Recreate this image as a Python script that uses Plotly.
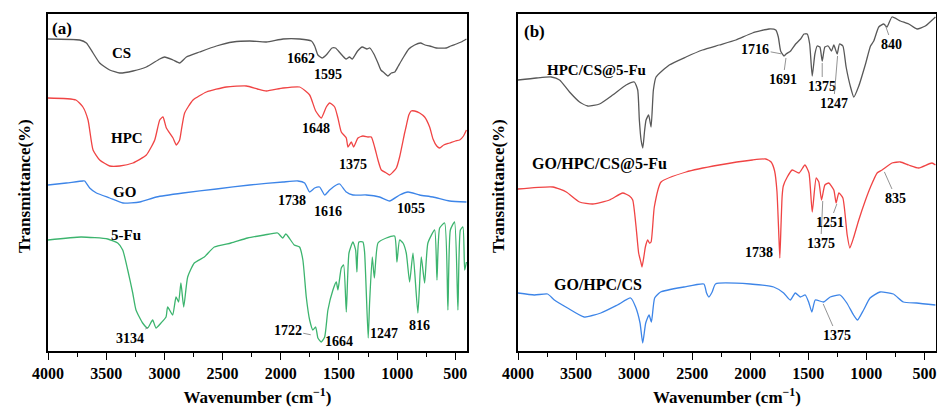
import plotly.graph_objects as go

# ---------------- data (wavenumber cm-1, transmittance a.u.) ----------------
cs_wn = [4000, 3728, 3670, 3613, 3556, 3470, 3384, 3270, 3155, 3040, 2998, 2926, 2869, 2811, 2697, 2553,
         2411, 2267, 2124, 1981, 1838, 1737, 1709, 1681, 1645, 1610, 1560, 1530, 1490, 1440, 1410, 1385,
         1340, 1300, 1260, 1235, 1200, 1165, 1140, 1110, 1080, 1050, 1020, 990, 950, 900, 850, 800, 760,
         720, 664, 578, 540, 492, 450, 405]
cs_t = [312, 311, 308, 298, 288, 281, 278, 280, 284, 292, 294, 291, 288, 294, 299, 305,
        309, 310, 309, 312, 312, 310, 305, 296, 293, 296, 303, 303, 298, 292, 294, 292,
        300, 304, 302, 303, 297, 288, 281, 278, 275, 278, 279, 285, 293, 302, 306, 308, 306,
        305, 303, 303, 305, 307, 309, 312]

hpc_wn = [4000, 3760, 3700, 3656, 3613, 3556, 3470, 3384, 3270, 3155, 3083, 3040, 3012, 2983, 2926, 2897,
          2869, 2854, 2826, 2754, 2639, 2468, 2296, 2200, 2124, 1981, 1838, 1752, 1700, 1652, 1609, 1580,
          1537, 1509, 1480, 1437, 1423, 1394, 1374, 1337, 1294, 1251, 1222, 1194, 1165, 1136, 1093, 1065,
          1036, 1007, 979, 936, 922, 900, 880, 850, 807, 764, 721, 692, 660, 635, 600, 549, 500, 463, 430, 405]
hpc_t = [253, 251, 244, 231, 201, 191, 185, 185, 188, 196, 211, 231, 234, 223, 213, 206,
         211, 221, 238, 251, 259, 264, 265, 262, 260, 263, 264, 256, 240, 233, 244, 248,
         244, 233, 219, 213, 204, 209, 204, 213, 215, 214, 214, 204, 191, 181, 178, 176,
         179, 183, 194, 218, 225, 236, 240, 240, 238, 234, 224, 212, 205, 203, 206, 208, 210, 211, 215, 221]

go_wn = [4000, 3842, 3700, 3685, 3642, 3584, 3470, 3356, 3212, 3069, 2840, 2553, 2267, 1981, 1853, 1795,
         1752, 1709, 1666, 1623, 1580, 1523, 1494, 1437, 1380, 1265, 1151, 1065, 979, 907, 807, 692, 549, 405]
go_t = [166, 168, 170, 170, 163, 158, 153, 148, 149, 154, 158, 162, 166, 169, 170, 168,
        159, 163, 164, 156, 161, 166, 167, 159, 156, 156, 154, 150, 156, 159, 156, 154, 150, 149]

fu_wn = [4000, 3716, 3487, 3401, 3358, 3315, 3272, 3244, 3187, 3144, 3101, 3072, 3029, 2986, 2972, 2929,
         2900, 2878, 2858, 2834, 2800, 2743, 2657, 2571, 2428, 2285, 2141, 2027, 1984, 1956, 1884, 1839,
         1810, 1781, 1752, 1724, 1700, 1681, 1652, 1623, 1595, 1552, 1523, 1509, 1480, 1460, 1437, 1414,
         1380, 1357, 1346, 1329, 1294, 1280, 1249, 1237, 1214, 1196, 1165, 1093, 1022, 1002, 979, 950,
         922, 893, 864, 822, 793, 764, 736, 678, 658, 635, 592, 564, 543, 507, 478, 457, 435, 420, 405]
fu_t = [111, 114, 112, 108, 101, 81, 58, 41, 28, 23, 31, 23, 28, 34, 44, 36,
        54, 49, 68, 44, 74, 88, 94, 104, 108, 113, 116, 118, 113, 117, 106, 104,
        91, 54, 31, 21, 24, 13, 9, 14, 41, 61, 69, 61, 83, 86, 39, 98,
        109, 101, 79, 109, 109, 99, 13, 48, 94, 73, 108, 113, 115, 89, 111, 108,
        98, 69, 98, 38, 94, 68, 108, 121, 71, 123, 128, 41, 121, 129, 41, 121, 124, 81, 89]

hcf_wn = [4000, 3842, 3713, 3642, 3556, 3470, 3399, 3298, 3184, 3069, 2998, 2969, 2955, 2940, 2925, 2910,
          2897, 2875, 2854, 2834, 2811, 2697, 2553, 2411, 2267, 2124, 1981, 1838, 1780, 1758, 1738, 1709,
          1691, 1652, 1609, 1566, 1537, 1509, 1488, 1466, 1443, 1423, 1400, 1380, 1357, 1329, 1300, 1280,
          1251, 1231, 1202, 1174, 1136, 1108, 1065, 1007, 964, 936, 893, 850, 822, 779, 707, 635, 564, 492, 405]
hcf_t = [271, 273, 274, 271, 259, 249, 245, 247, 256, 266, 269, 261, 231, 211, 203, 220,
         231, 236, 224, 261, 274, 286, 294, 301, 306, 311, 318, 322, 321, 314, 300, 295,
         297, 300, 307, 312, 317, 317, 307, 275, 297, 305, 304, 290, 304, 305, 300, 306,
         297, 307, 305, 284, 264, 254, 265, 287, 305, 310, 324, 327, 324, 334, 330, 327, 322, 325, 334]

ghcf_wn = [4000, 3699, 3584, 3470, 3356, 3212, 3098, 3040, 3012, 2983, 2961, 2940, 2932, 2915, 2903, 2883,
           2868, 2854, 2826, 2768, 2553, 2267, 1981, 1866, 1820, 1790, 1770, 1755, 1745, 1735, 1725, 1715,
           1681, 1638, 1580, 1529, 1494, 1466, 1432, 1409, 1386, 1357, 1323, 1280, 1260, 1237, 1202, 1165,
           1142, 1108, 1065, 1007, 964, 907, 864, 779, 707, 635, 549, 435, 405]
ghcf_t = [162, 164, 159, 149, 147, 151, 158, 155, 151, 124, 98, 88, 84, 95, 104, 111,
          108, 109, 144, 169, 179, 186, 191, 192, 189, 180, 160, 120, 93, 125, 155, 165,
          174, 181, 178, 186, 178, 139, 173, 169, 151, 166, 168, 161, 148, 158, 153, 116,
          103, 114, 131, 151, 164, 178, 181, 188, 189, 186, 183, 188, 186]

ghc_wn = [4000, 3859, 3745, 3687, 3573, 3430, 3287, 3144, 3030, 2987, 2949, 2926, 2900, 2871, 2851, 2823,
          2772, 2571, 2399, 2376, 2356, 2328, 2299, 1999, 1798, 1712, 1655, 1612, 1569, 1526, 1497, 1469,
          1440, 1368, 1311, 1226, 1168, 1110, 1076, 1024, 968, 882, 767, 681, 567, 405]
ghc_t = [58, 56, 57, 51, 43, 34, 38, 46, 53, 44, 28, 8, 28, 36, 29, 53,
         59, 64, 67, 58, 54, 59, 67, 67, 64, 58, 51, 58, 54, 56, 49, 39,
         51, 49, 54, 56, 48, 36, 31, 41, 53, 59, 57, 49, 48, 46]

x_ticks = [4000, 3500, 3000, 2500, 2000, 1500, 1000, 500]

# ---------------- styling ----------------
FONT = "Times New Roman, Liberation Serif, serif"
GRAY, RED, BLUE, GREEN = "#585858", "#f04444", "#3d85e8", "#3cb46e"

fig = go.Figure()
series = [
    ("CS", cs_wn, cs_t, GRAY, "x", "y"),
    ("HPC", hpc_wn, hpc_t, RED, "x", "y"),
    ("GO", go_wn, go_t, BLUE, "x", "y"),
    ("5-Fu", fu_wn, fu_t, GREEN, "x", "y"),
    ("HPC/CS@5-Fu", hcf_wn, hcf_t, GRAY, "x2", "y2"),
    ("GO/HPC/CS@5-Fu", ghcf_wn, ghcf_t, RED, "x2", "y2"),
    ("GO/HPC/CS", ghc_wn, ghc_t, BLUE, "x2", "y2"),
]
for name, xs, ys, col, xa, ya in series:
    fig.add_trace(go.Scatter(x=xs, y=ys, mode="lines", name=name, xaxis=xa, yaxis=ya,
                             line=dict(color=col, width=1.3, shape="spline", smoothing=0.5),
                             showlegend=False))

def xaxis(domain, anchor):
    return dict(domain=domain, anchor=anchor, range=[4000, 400], tickmode="array", tickvals=x_ticks,
                ticks="outside", ticklen=7, tickwidth=1.3, tickcolor="black",
                showline=True, linecolor="black", linewidth=1.5, mirror=True,
                showgrid=False, zeroline=False, automargin=False,
                tickfont=dict(family=FONT, size=16, color="black", weight="bold"),
                minor=dict(ticks="outside", ticklen=4, tickcolor="black", tickwidth=1.2, dtick=250, tick0=0, showgrid=False),
                title=dict(text="<b>Wavenumber (cm<sup>−1</sup>)</b>", standoff=10,
                           font=dict(family=FONT, size=17, color="black")))

def yaxis(domain, anchor):
    return dict(domain=domain, anchor=anchor, range=[0, 337], showticklabels=False, ticks="",
                showline=True, linecolor="black", linewidth=1.5, mirror=True,
                showgrid=False, zeroline=False, automargin=False)

W, H = 937, 410
fig.update_layout(
    width=W, height=H, margin=dict(l=0, r=0, t=14, b=59),
    paper_bgcolor="white", plot_bgcolor="white",
    xaxis=xaxis([48 / W, 467 / W], "y"),
    yaxis=yaxis([0, 1], "x"),
    xaxis2=xaxis([518 / W, 936 / W], "y2"),
    yaxis2=yaxis([0, 1], "x2"),
)

ann = []
def label(text, x, y, ax_="x", size=14, anchor="center"):
    ann.append(dict(text="<b>%s</b>" % text, x=x, y=y, xref=ax_, yref="y" if ax_ == "x" else "y2",
                    showarrow=False, xanchor=anchor, yanchor="middle",
                    font=dict(family=FONT, size=size, color="black")))

def lead(text, x, y, dx, dy, ax_="x", size=14):
    ann.append(dict(text="<b>%s</b>" % text, x=x, y=y, xref=ax_, yref="y" if ax_ == "x" else "y2",
                    showarrow=True, arrowhead=0, arrowwidth=0.8, arrowcolor="#777777",
                    ax=dx, ay=dy, standoff=1, font=dict(family=FONT, size=size, color="black")))

# panel (a)
label("(a)", 3985, 323, "x", 17, "left")
label("CS", 3366, 298, "x", 15)
label("1662", 1829, 293, "x")
label("1595", 1593, 277, "x")
label("HPC", 3320, 213, "x", 15)
label("1648", 1700, 223, "x")
label("1375", 1378, 187, "x")
label("GO", 3341, 159, "x", 15)
label("1738", 1902, 151, "x")
label("1616", 1593, 140, "x")
label("1055", 884, 143, "x")
label("5-Fu", 3332, 116, "x", 15)
lead("3134", 3134, 24, -19, 11, "x")
lead("1722", 1734, 16, -24, -5, "x")
label("1664", 1503, 10, "x")
label("1247", 1116, 18, "x")
label("816", 807, 26, "x")

# panel (b)
label("(b)", 3968, 320, "x2", 17, "left")
label("HPC/CS@5-Fu", 3320, 281, "x2", 15)
lead("1716", 1725, 297, -27, -5, "x2")
lead("1691", 1691, 294, -3, 22, "x2")
lead("1375", 1380, 289, 0, 24, "x2")
lead("1247", 1247, 296, -4, 48, "x2")
lead("840", 840, 327, 7, 20, "x2")
label("GO/HPC/CS@5-Fu", 3294, 187, "x2", 16)
label("1738", 1924, 99, "x2")
lead("1375", 1375, 151, -2, 43, "x2")
lead("1251", 1251, 148, -7, 19, "x2")
lead("835", 848, 180, 12, 27, "x2")
label("GO/HPC/CS", 3309, 67, "x2", 16)
lead("1375", 1375, 48, 14, 32, "x2")

# y titles (centred on the plot area)
for px in (24, 498):
    ann.append(dict(text="<b>Transmittance(%)</b>", x=px / W, y=(351 - 186) / 337, xref="paper", yref="paper",
                    yanchor="middle", xanchor="center", showarrow=False, textangle=-90,
                    font=dict(family=FONT, size=17, color="black")))
fig.update_layout(annotations=ann)

fig.write_html("out.html")
